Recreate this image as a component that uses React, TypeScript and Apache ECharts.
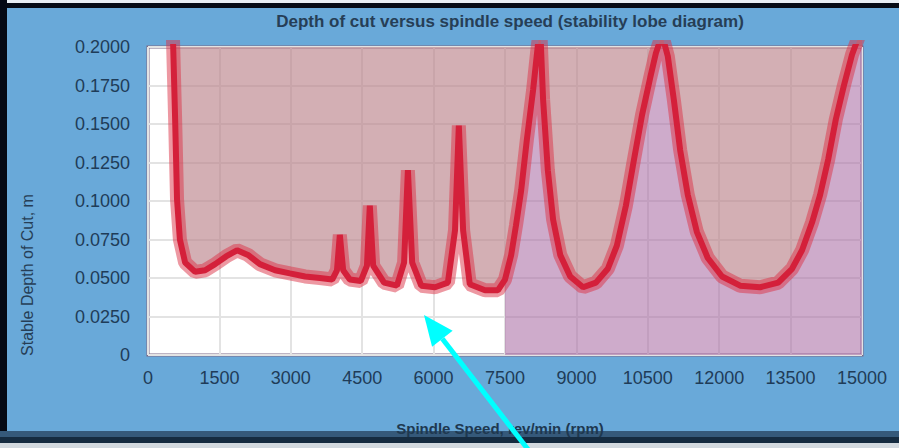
import React, { useEffect, useRef } from "react";
import * as echarts from "echarts";

// Spindle speed (rpm) and limiting depth of cut (m) along the stability-lobe envelope
const speedRpm = [
  525, 570, 610, 670, 780, 990, 1200, 1410, 1640, 1870, 2100, 2350, 2670, 2980, 3300, 3610, 3870,
  3970, 4030, 4100, 4240, 4470, 4600, 4660, 4730, 4960, 5230, 5380, 5460, 5550, 5740, 6030, 6300,
  6450, 6530, 6620, 6760, 7080, 7350, 7500, 7630, 7730, 7840, 7960, 8090, 8190, 8240, 8300, 8400,
  8510, 8660, 8870, 9140, 9410, 9660, 9850, 10040, 10210, 10380, 10550, 10670, 10800, 10920, 11050,
  11180, 11340, 11530, 11760, 12060, 12440, 12860, 13240, 13530, 13740, 13950, 14120, 14290, 14450,
  14620, 14790, 14920, 15000,
];
const depthM = [
  0.205, 0.153, 0.101, 0.075, 0.06, 0.054, 0.055, 0.059, 0.064, 0.068, 0.065, 0.059, 0.055, 0.053,
  0.051, 0.05, 0.049, 0.055, 0.078, 0.055, 0.049, 0.048, 0.058, 0.097, 0.058, 0.047, 0.045, 0.06,
  0.12, 0.06, 0.045, 0.044, 0.047, 0.081, 0.149, 0.081, 0.046, 0.042, 0.042, 0.049, 0.065, 0.084,
  0.107, 0.14, 0.172, 0.201, 0.212, 0.166, 0.12, 0.088, 0.065, 0.051, 0.044, 0.047, 0.056, 0.071,
  0.097, 0.127, 0.156, 0.18, 0.196, 0.208, 0.194, 0.165, 0.133, 0.104, 0.08, 0.063, 0.051, 0.045,
  0.044, 0.047, 0.056, 0.068, 0.086, 0.104, 0.127, 0.153, 0.175, 0.195, 0.206, 0.212,
];
const stableFromRpm = 7500;

const xMin = 0;
const xMax = 15000;
const xStep = 1500;
const yMin = 0;
const yMax = 0.2;
const yStep = 0.025;

const titleText = "Depth of cut versus spindle speed (stability lobe diagram)";
const xName = "Spindle Speed, rev/min (rpm)";
const yName = "Stable Depth of Cut, m";

export default function App() {
  const ref = useRef<HTMLDivElement>(null);

  useEffect(() => {
    if (!ref.current) return;
    const chart = echarts.init(ref.current, null, { renderer: "svg" });
    const envelope = speedRpm.map((s, i) => [s, depthM[i]]);
    const stable = envelope.filter((p) => p[0] >= stableFromRpm);
    const font = "Liberation Sans, Arial, sans-serif";
    const textColor = "#1f3c58";

    // arrow geometry (annotation)
    const tip = [424, 315];
    const tail = [530, 452];
    const dx = tail[0] - tip[0];
    const dy = tail[1] - tip[1];
    const len = Math.sqrt(dx * dx + dy * dy);
    const ux = dx / len;
    const uy = dy / len;
    const headLen = 30;
    const headHalf = 13;
    const base = [tip[0] + ux * headLen, tip[1] + uy * headLen];
    const p1 = [base[0] - uy * headHalf, base[1] + ux * headHalf];
    const p2 = [base[0] + uy * headHalf, base[1] - ux * headHalf];

    chart.setOption({
      animation: false,
      backgroundColor: "#69a9d9",
      grid: {
        left: 148,
        right: 37,
        top: 47,
        bottom: 93,
        show: true,
        backgroundColor: "#ffffff",
        borderColor: "#7d6b88",
        borderWidth: 3,
      },
      xAxis: {
        type: "value",
        min: xMin,
        max: xMax,
        interval: xStep,
        axisLine: { show: false },
        axisTick: { show: false },
        axisLabel: {
          color: textColor,
          fontSize: 18,
          margin: 14,
          fontFamily: font,
          formatter: (v: number) => String(v),
        },
        splitLine: { show: true, lineStyle: { color: "#e3e3e3", width: 2 } },
      },
      yAxis: {
        type: "value",
        min: yMin,
        max: yMax,
        interval: yStep,
        axisLine: { show: false },
        axisTick: { show: false },
        axisLabel: {
          color: textColor,
          fontSize: 18,
          margin: 18,
          fontFamily: font,
          formatter: (v: number) => (v === 0 ? "0" : v.toFixed(4)),
        },
        splitLine: { show: true, lineStyle: { color: "#e3e3e3", width: 2 } },
      },
      series: [
        {
          type: "line",
          data: stable,
          showSymbol: false,
          silent: true,
          z: 1,
          lineStyle: { width: 0 },
          areaStyle: { origin: "start", color: "rgba(170,110,165,0.58)", opacity: 1 },
        },
        {
          type: "line",
          data: envelope,
          showSymbol: false,
          silent: true,
          z: 2,
          lineStyle: { width: 14, color: "rgba(220,50,70,0.5)" },
          areaStyle: { origin: "end", color: "rgba(188,132,140,0.65)", opacity: 1 },
        },
        {
          type: "line",
          data: envelope,
          showSymbol: false,
          silent: true,
          z: 3,
          lineStyle: { width: 6, color: "#d4203a" },
        },
      ],
      graphic: [
        { type: "rect", z: -5, shape: { x: 0, y: 0, width: 899, height: 3 }, style: { fill: "#e8eef4" } },
        { type: "rect", z: -5, shape: { x: 0, y: 3, width: 899, height: 5 }, style: { fill: "#060b16" } },
        { type: "rect", z: -5, shape: { x: 0, y: 0, width: 7, height: 441 }, style: { fill: "#040914" } },
        { type: "rect", z: -5, shape: { x: 0, y: 431, width: 899, height: 6 }, style: { fill: "#35597a" } },
        { type: "rect", z: -5, shape: { x: 0, y: 437, width: 899, height: 6 }, style: { fill: "#152b40" } },
        { type: "rect", z: -5, shape: { x: 0, y: 443, width: 899, height: 5 }, style: { fill: "#d2d9df" } },
        {
          type: "text",
          x: 510,
          y: 21,
          z: 10,
          style: {
            text: titleText,
            fill: "#263e56",
            font: `bold 17px ${font}`,
            textAlign: "center",
            textVerticalAlign: "middle",
          },
        },
        {
          type: "text",
          x: 27,
          y: 275,
          rotation: Math.PI / 2,
          z: 10,
          style: {
            text: yName,
            fill: "#263e56",
            font: `16px ${font}`,
            textAlign: "center",
            textVerticalAlign: "middle",
          },
        },
        {
          type: "text",
          x: 500,
          y: 428,
          z: 10,
          style: {
            text: xName,
            fill: "#1e3850",
            font: `bold 15px ${font}`,
            textAlign: "center",
            textVerticalAlign: "middle",
          },
        },
        {
          type: "line",
          z: 100,
          shape: { x1: tail[0], y1: tail[1], x2: base[0], y2: base[1] },
          style: { stroke: "#00ffff", lineWidth: 5 },
        },
        {
          type: "polygon",
          z: 100,
          shape: { points: [tip, p1, p2] },
          style: { fill: "#00ffff" },
        },
      ],
    });
    return () => chart.dispose();
  }, []);

  return (
    <div
      ref={ref}
      style={{ position: "fixed", left: 0, top: 0, width: 899, height: 448 }}
    />
  );
}
